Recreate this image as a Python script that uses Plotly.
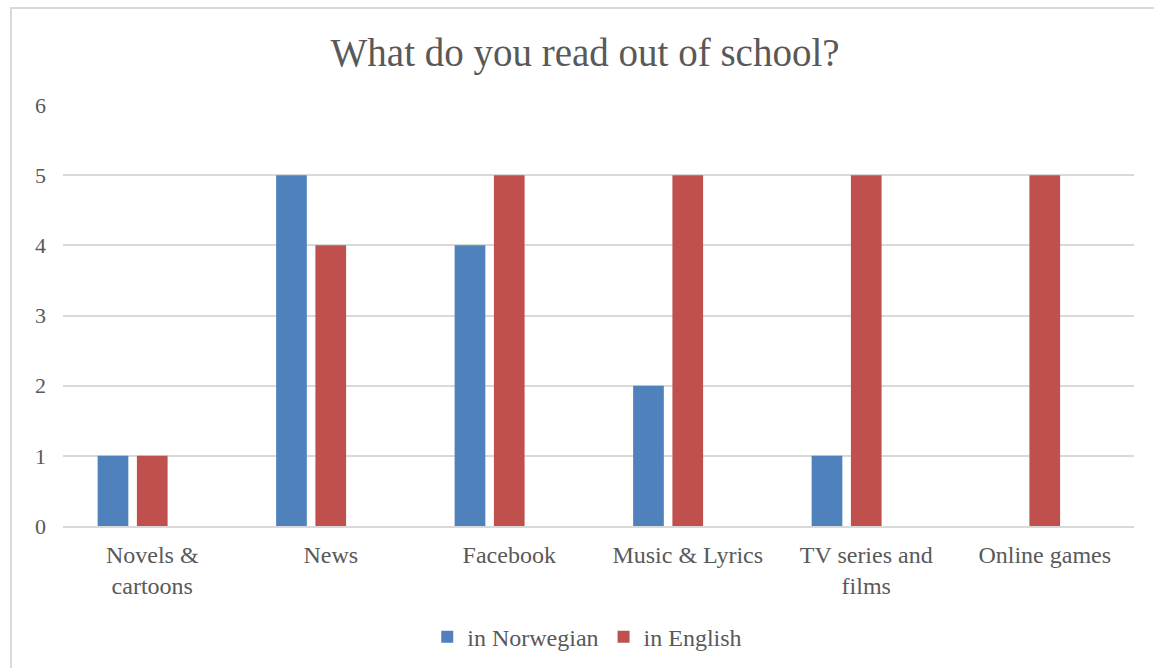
import plotly.graph_objects as go

categories = ["Novels &<br>cartoons", "News", "Facebook", "Music & Lyrics",
              "TV series and<br>films", "Online games"]
norwegian = [1, 5, 4, 2, 1, None]
english = [1, 4, 5, 5, 5, 5]
y_ticks = [0, 1, 2, 3, 4, 5, 6]

FONT = "Liberation Serif"
TEXT = "#595959"
GRID = "#D9D9D9"

fig = go.Figure()
fig.add_trace(go.Bar(
    x=categories, y=norwegian, name="in Norwegian",
    marker=dict(color="#4F81BD", line=dict(width=0)),
    width=0.172, offset=-0.306,
))
fig.add_trace(go.Bar(
    x=categories, y=english, name="in English",
    marker=dict(color="#C0504D", line=dict(width=0)),
    width=0.172, offset=-0.086,
))

fig.update_layout(
    width=1154, height=668,
    margin=dict(l=63, r=20, t=105, b=142, autoexpand=False),
    paper_bgcolor="white", plot_bgcolor="white",
    barmode="overlay",
    font=dict(family=FONT, color=TEXT, size=24),
    title=dict(text="What do you read out of school?", x=0.507, xanchor="center",
               y=0.922, yanchor="middle",
               font=dict(family=FONT, size=39, color=TEXT)),
    showlegend=True,
    legend=dict(orientation="h", x=0.4895, xanchor="center",
                yref="container", y=0.046, yanchor="middle",
                font=dict(family=FONT, size=24, color=TEXT), traceorder="normal",
                itemwidth=30),
    xaxis=dict(showgrid=False, showline=True, linecolor=GRID, linewidth=2,
               ticks="", ticklabelstandoff=6, automargin=False,
               tickfont=dict(family=FONT, size=24, color=TEXT)),
    yaxis=dict(range=[0, 6], tickvals=y_ticks, showgrid=True, gridcolor=GRID,
               gridwidth=2, zeroline=False, showline=False, ticks="",
               ticklabelstandoff=16, automargin=False,
               tickfont=dict(family=FONT, size=22, color=TEXT)),
    shapes=[dict(type="rect", xref="paper", yref="paper",
                 x0=-0.0486, x1=1.2, y0=-0.5, y1=1.2304,
                 line=dict(color=GRID, width=2), fillcolor="rgba(0,0,0,0)",
                 layer="below")],
)

fig.write_html("out.html")
